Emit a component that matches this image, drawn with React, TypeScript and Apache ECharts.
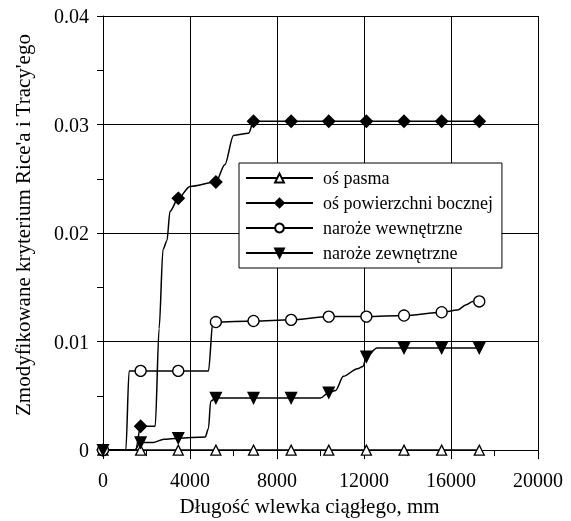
import React, { useEffect, useRef } from "react";
import * as echarts from "echarts";

// Series names (legend order)
const seriesNames = [
  "oś pasma",
  "oś powierzchni bocznej",
  "naroże wewnętrzne",
  "naroże zewnętrzne",
];

// Each point: [distance (mm), criterion value, marker shown (1) / hidden (0)]
const osPasma: number[][] = [
  [0, 0, 1], [1730, 0, 1], [3460, 0, 1], [5190, 0, 1], [6920, 0, 1], [8650, 0, 1],
  [10380, 0, 1], [12110, 0, 1], [13840, 0, 1], [15570, 0, 1], [17300, 0, 1],
];

const osBoczna: number[][] = [
  [0, 0, 1], [1500, 0, 0], [1730, 0.0022, 1], [2400, 0.0022, 0], [2580, 0.0112, 0],
  [2760, 0.0185, 0], [2940, 0.0193, 0], [3080, 0.022, 0], [3460, 0.0232, 1],
  [4000, 0.0243, 0], [5190, 0.0247, 1], [5600, 0.0263, 0], [6000, 0.029, 0],
  [6700, 0.0292, 0], [6920, 0.0303, 1], [8650, 0.0303, 1], [10380, 0.0303, 1],
  [12110, 0.0303, 1], [13840, 0.0303, 1], [15570, 0.0303, 1], [17300, 0.0303, 1],
];

const narozeWew: number[][] = [
  [0, 0, 1], [1050, 0, 0], [1200, 0.0073, 0], [1730, 0.0073, 1], [3460, 0.0073, 1],
  [4850, 0.0073, 0], [5050, 0.0118, 0], [5190, 0.0118, 1], [6920, 0.0119, 1],
  [8650, 0.012, 1], [10380, 0.0123, 1], [12110, 0.0123, 1], [13840, 0.0124, 1],
  [15570, 0.0127, 1], [16300, 0.0129, 0], [16700, 0.0134, 0], [17000, 0.0137, 0],
  [17300, 0.0137, 1],
];

const narozeZew: number[][] = [
  [0, 0, 1], [1450, 0, 0], [1730, 0.0007, 1], [2300, 0.0007, 0], [2800, 0.001, 0],
  [3460, 0.0011, 1], [4700, 0.0012, 0], [4850, 0.002, 0], [4950, 0.0045, 0],
  [5190, 0.0048, 1], [6920, 0.0048, 1], [8650, 0.0048, 1], [10000, 0.0048, 0],
  [10380, 0.0053, 1], [10700, 0.0055, 0], [11050, 0.0068, 0], [11700, 0.0075, 0],
  [11950, 0.0077, 0], [12110, 0.0086, 1], [12600, 0.0094, 0], [13840, 0.0094, 1],
  [15570, 0.0094, 1], [17300, 0.0094, 1],
];

const xAxisTitle = "Długość wlewka ciągłego, mm";
const yAxisTitle = "Zmodyfikowane kryterium Rice'a i Tracy'ego";

function toData(points: number[][]) {
  return points.map((p) =>
    p[2] ? { value: [p[0], p[1]] } : { value: [p[0], p[1]], symbol: "none" }
  );
}

export default function App() {
  const ref = useRef<HTMLDivElement>(null);

  useEffect(() => {
    if (!ref.current) return;
    const chart = echarts.init(ref.current, undefined, { renderer: "svg" });

    const mk = (
      name: string,
      pts: number[][],
      symbol: string,
      size: number,
      fill: string
    ) => ({
      name,
      type: "line",
      data: toData(pts),
      symbol,
      symbolSize: size,
      showAllSymbol: true,
      smooth: 0.3,
      smoothMonotone: "x",
      lineStyle: { color: "#000", width: 1.5 },
      itemStyle: { color: fill, borderColor: "#000", borderWidth: 1.3 },
    });

    chart.setOption({
      animation: false,
      textStyle: { fontFamily: "Liberation Serif" },
      grid: { left: 103, right: 33, top: 16, bottom: 69 },
      legend: {
        orient: "vertical",
        left: 239,
        top: 163,
        padding: [6, 9, 6, 6],
        itemWidth: 67,
        itemHeight: 11,
        itemGap: 7,
        backgroundColor: "#fff",
        borderColor: "#000",
        borderWidth: 1,
        data: seriesNames,
        textStyle: { fontFamily: "Liberation Serif", fontSize: 18, color: "#000", lineHeight: 18, padding: [0, 0, 0, 5] },
      },
      xAxis: {
        type: "value",
        min: 0,
        max: 20000,
        interval: 4000,
        name: xAxisTitle,
        nameLocation: "middle",
        nameGap: 44,
        nameTextStyle: { fontFamily: "Liberation Serif", fontSize: 21, color: "#000", padding: [0, 22, 0, 0] },
        axisLine: { show: true, onZero: false, lineStyle: { color: "#000", width: 1 } },
        axisTick: { show: true, length: 9, lineStyle: { color: "#000", width: 1 } },
        minorTick: { show: true, splitNumber: 2, length: 6, lineStyle: { color: "#000", width: 1 } },
        splitLine: { show: true, lineStyle: { color: "#000", width: 1 } },
        axisLabel: {
          fontFamily: "Liberation Serif",
          fontSize: 20,
          color: "#000",
          margin: 20,
          formatter: (v: number) => String(v),
        },
      },
      yAxis: {
        type: "value",
        min: 0,
        max: 0.04,
        interval: 0.01,
        name: yAxisTitle,
        nameLocation: "middle",
        nameGap: 70,
        nameRotate: 90,
        nameTextStyle: { fontFamily: "Liberation Serif", fontSize: 21, color: "#000", padding: [0, 0, 0, 16] },
        axisLine: { show: true, onZero: false, lineStyle: { color: "#000", width: 1 } },
        axisTick: { show: true, length: 6, lineStyle: { color: "#000", width: 1 } },
        minorTick: { show: true, splitNumber: 2, length: 6, lineStyle: { color: "#000", width: 1 } },
        splitLine: { show: true, lineStyle: { color: "#000", width: 1 } },
        axisLabel: {
          fontFamily: "Liberation Serif",
          fontSize: 20,
          color: "#000",
          margin: 14,
          formatter: (v: number) => (v === 0 ? "0" : v.toFixed(2)),
        },
      },
      series: [
        mk(seriesNames[0], osPasma, "triangle", 10, "#fff"),
        mk(seriesNames[1], osBoczna, "diamond", 12, "#000"),
        mk(seriesNames[2], narozeWew, "circle", 11, "#fff"),
        mk(seriesNames[3], narozeZew, "path://M0,0L2,0L1,2Z", 11, "#000"),
      ],
    });

    return () => chart.dispose();
  }, []);

  return (
    <div
      ref={ref}
      style={{ position: "fixed", left: 0, top: 0, width: 571, height: 521, fontFamily: "Liberation Serif" }}
    />
  );
}
